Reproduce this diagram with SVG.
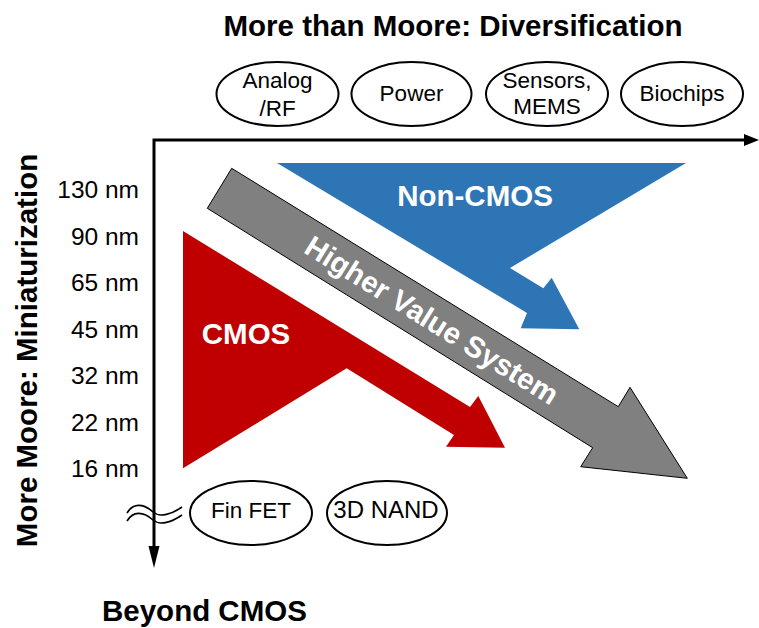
<svg xmlns="http://www.w3.org/2000/svg" width="759" height="628" viewBox="0 0 759 628">
  <style>
    .t { font-family: "Liberation Sans", Arial, sans-serif; fill: #000; }
    .b { font-weight: bold; font-size: 29.5px; }
    .w { font-family: "Liberation Sans", Arial, sans-serif; font-weight: bold; font-size: 29.5px; fill: #fff; text-anchor: middle; }
    .nm { font-size: 24.5px; text-anchor: end; }
    .el { fill: #fff; stroke: #000; stroke-width: 2; }
    .elt { font-size: 22.5px; text-anchor: middle; }
    .axis { fill: none; stroke: #000; stroke-width: 3; stroke-linejoin: miter; }
    .wave { fill: none; stroke: #000; stroke-width: 1.6; }
  </style>
  <rect width="759" height="628" fill="#fff"/>

  <g id="connectors">
    <path class="axis" d="M154,549 L154,140 L746,140"/>
    <polygon points="744,134 759,140 744,146" fill="#000"/>
    <polygon points="148.5,546 154,568 159.5,546" fill="#000"/>
    <path class="wave" d="M127,513 C133,503 143,503 153,512 C160,518 172,514 182,507"/>
    <path class="wave" d="M127,521 C133,511 143,511 153,520 C160,526 172,522 182,515"/>
  </g>

  <g id="title-top">
    <text class="t b" x="453" y="36" text-anchor="middle">More than Moore: Diversification</text>
  </g>
  <g id="title-left">
    <text class="t b" transform="translate(37,350.5) rotate(-90)" text-anchor="middle">More Moore: Miniaturization</text>
  </g>
  <g id="title-bottom">
    <text class="t b" x="102" y="621">Beyond CMOS</text>
  </g>

  <g id="node-scale">
    <text class="t nm" x="139" y="198">130 nm</text>
    <text class="t nm" x="139" y="244.5">90 nm</text>
    <text class="t nm" x="139" y="291">65 nm</text>
    <text class="t nm" x="139" y="337.5">45 nm</text>
    <text class="t nm" x="139" y="384">32 nm</text>
    <text class="t nm" x="139" y="431">22 nm</text>
    <text class="t nm" x="139" y="477">16 nm</text>
  </g>

  <g id="node-analog">
    <ellipse class="el" cx="277.5" cy="94" rx="61" ry="32"/>
    <text class="t elt" x="277.5" y="88">Analog</text>
    <text class="t elt" x="277.5" y="116">/RF</text>
  </g>
  <g id="node-power">
    <ellipse class="el" cx="411.5" cy="94" rx="60" ry="32"/>
    <text class="t elt" x="411.5" y="101">Power</text>
  </g>
  <g id="node-sensors">
    <ellipse class="el" cx="547" cy="94" rx="61" ry="32"/>
    <text class="t elt" x="547" y="88">Sensors,</text>
    <text class="t elt" x="547" y="114">MEMS</text>
  </g>
  <g id="node-biochips">
    <ellipse class="el" cx="682" cy="94" rx="61" ry="32"/>
    <text class="t elt" x="682" y="101">Biochips</text>
  </g>

  <g id="node-noncmos">
    <polygon points="277,163 686,163 510,268 543.3,288.3 551.7,277.7 579.3,329.3 520.7,328.3 527,313" fill="#2E75B6"/>
    <text class="w" x="475" y="206">Non-CMOS</text>
  </g>
  <g id="node-cmos">
    <polygon points="183,231 470,407 478.3,396 505,447.7 446,446.7 454,435 346.7,368.3 183,468.3" fill="#C00000"/>
    <text class="w" x="246" y="344">CMOS</text>
  </g>
  <g id="node-higher-value">
    <polygon points="231.7,168.3 618.3,406.7 630,387.3 687.3,478.3 580.7,466.7 592.7,447.7 207.3,208.3" fill="#808080" stroke="#000" stroke-width="1"/>
    <text class="w" transform="translate(432,320) rotate(31.8)" y="10.5">Higher Value System</text>
  </g>

  <g id="node-finfet">
    <ellipse class="el" cx="251" cy="513" rx="61" ry="32"/>
    <text class="t elt" x="251" y="518">Fin FET</text>
  </g>
  <g id="node-3dnand">
    <ellipse class="el" cx="387" cy="513" rx="60" ry="32"/>
    <text class="t elt" x="386" y="518" style="font-size:24px">3D NAND</text>
  </g>
</svg>
